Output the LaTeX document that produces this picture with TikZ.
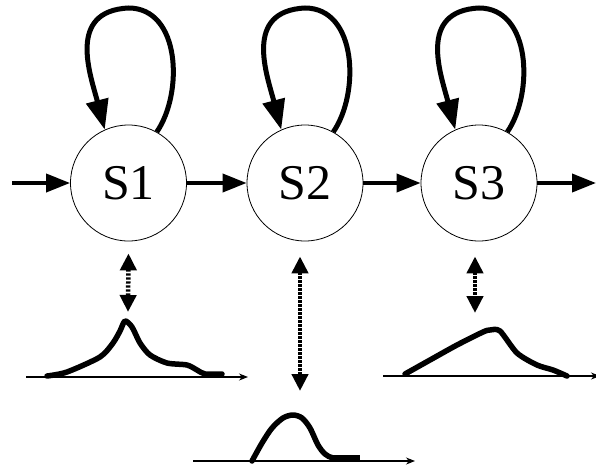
\documentclass[tikz,border=0pt]{standalone}
\usepackage{fontspec}
\setmainfont{Liberation Serif}
\usetikzlibrary{arrows.meta}
\begin{document}
\begin{tikzpicture}[x=1pt,y=-1pt,
  state/.style={circle,draw,line width=0.8pt,minimum size=116pt,inner sep=0pt,
    font=\fontsize{50}{52}\selectfont},
  flow/.style={line width=3.8pt,-{Triangle[length=24pt,width=18pt]}},
  selfloop/.style={line width=5pt,-{Triangle[length=30pt,width=22pt]}},
  link/.style={line width=4.5pt,dash pattern=on 2.2pt off 1.8pt,
    {Triangle[length=17pt,width=16pt]}-{Triangle[length=17pt,width=16pt]}},
  density/.style={line width=5.5pt,line cap=round,line join=round},
  axis/.style={line width=1.1pt,-{Stealth[length=9pt,width=7pt]}}]
\useasboundingbox (0,0) rectangle (596,466);

\node[state] (s1) at (128.5,183) {S1};
\node[state] (s2) at (305,183) {S2};
\node[state] (s3) at (479,183) {S3};

\coordinate (in) at (12,183);
\coordinate (out) at (596,183);
\draw[flow] (in) -- (s1.west);
\draw[flow] (s1.east) -- (s2.west);
\draw[flow] (s2.east) -- (s3.west);
\draw[flow] (s3.east) -- (out);

\foreach \n in {s1,s2,s3}{
  \draw[selfloop] (\n.61)
    .. controls ([shift={(55,-90)}]\n.center) and ([shift={(52,-175)}]\n.center) .. ([shift={(0,-175)}]\n.center)
    .. controls ([shift={(-62,-172)}]\n.center) and ([shift={(-38,-108)}]\n.center) .. (\n.114);
}

% distribution 1
\coordinate (a1s) at (26,377);
\coordinate (a1e) at (248,377);
\draw[axis] (a1s) -- (a1e);
\coordinate (d1) at (128,312);
\draw[density] plot[smooth,tension=0.45] coordinates {(47,376) (67,372) (100,357) (113,343) (120,331) (125,321) (132,327) (140,343) (150,355) (167,363) (187,365) (197,370) (205,374) (222,374)};
\draw[link] ([yshift=-12pt]s1.south) -- (d1);

% distribution 2
\coordinate (a2s) at (193,461);
\coordinate (a2e) at (415,461);
\draw[axis] (a2s) -- (a2e);
\coordinate (d2) at (300,391);
\draw[density] plot[smooth,tension=0.5] coordinates {(252,461) (262,443) (272,428) (283,418) (293,415) (302,418) (310,428) (318,445) (325,454) (333,458) (345,458)};
\fill (333,455) rectangle (360,461);
\draw[link] ([xshift=-5pt,yshift=-15pt]s2.south) -- (d2);

% distribution 3
\coordinate (a3s) at (383,376);
\coordinate (a3e) at (600,376);
\draw[axis] (a3s) -- (a3e);
\coordinate (d3) at (475,313);
\draw[density] plot[smooth,tension=0.45] coordinates {(405,374) (430,360) (457,345) (483,332) (490,330) (500,331) (517,353) (537,365) (553,370) (567,376)};
\draw[link] ([xshift=-4pt,yshift=-15pt]s3.south) -- (d3);
\end{tikzpicture}
\end{document}
